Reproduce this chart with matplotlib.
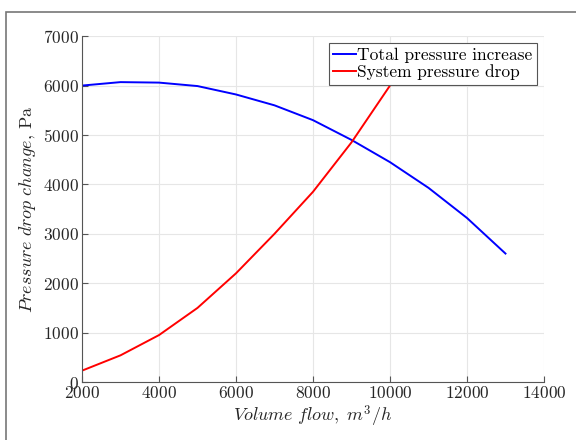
import matplotlib
matplotlib.use('Agg')
import matplotlib.pyplot as plt
from matplotlib.patches import Rectangle

plt.rcParams['font.family'] = 'cmr10'
plt.rcParams['mathtext.fontset'] = 'cm'
plt.rcParams['axes.formatter.use_mathtext'] = True

# fan curve and system curve
flow_fan = [2000, 3000, 4000, 5000, 6000, 7000, 8000, 9000, 10000, 11000, 12000, 13000]
total_pressure = [6000, 6070, 6060, 5990, 5820, 5600, 5300, 4900, 4450, 3930, 3320, 2600]
flow_sys = [2000, 3000, 4000, 5000, 6000, 7000, 8000, 9000, 10000]
system_drop = [230, 540, 950, 1500, 2200, 3000, 3850, 4850, 6000]

fig = plt.figure(figsize=(5.76, 4.4), dpi=100)
ax = fig.add_axes([0.1424, 0.1318, 0.802, 0.786])

ax.plot(flow_fan, total_pressure, color='#0000ff', lw=1.4, label='Total pressure increase')
ax.plot(flow_sys, system_drop, color='#ff0000', lw=1.4, label='System pressure drop')

ax.set_xlim(2000, 14000)
ax.set_ylim(0, 7000)
ax.set_xticks(range(2000, 14001, 2000))
ax.set_yticks(range(0, 7001, 1000))
ax.grid(True, color='#e6e6e6', lw=0.8)
ax.set_axisbelow(True)
for s in ['top', 'right']:
    ax.spines[s].set_visible(False)
for s in ['left', 'bottom']:
    ax.spines[s].set_color('#555555')
    ax.spines[s].set_linewidth(0.8)
ax.tick_params(direction='in', length=4, colors='#555555', labelcolor='#262626',
               labelsize=12.5, pad=2)

ax.set_xlabel(r'$Volume\ flow,\ m^3/h$', fontsize=13, color='#262626', labelpad=2)
ax.set_ylabel(r'$Pressure\ drop\ change$, Pa', fontsize=13, color='#262626', labelpad=4)

leg = ax.legend(loc='upper right', bbox_to_anchor=(0.985, 0.98), fontsize=12.5,
                fancybox=False, framealpha=1, edgecolor='#555555',
                handlelength=1.3, handletextpad=0.1, borderpad=0.25,
                labelspacing=0.1, borderaxespad=0)
leg.get_frame().set_linewidth(0.8)

# outer frame around the figure
fig.patches.append(Rectangle((6 / 576, -0.1), 1.1, 1.1 - 12 / 440 + 0.0,
                             transform=fig.transFigure, fill=False,
                             edgecolor='#777777', lw=1.2))

fig.savefig('out.png', dpi=100)
